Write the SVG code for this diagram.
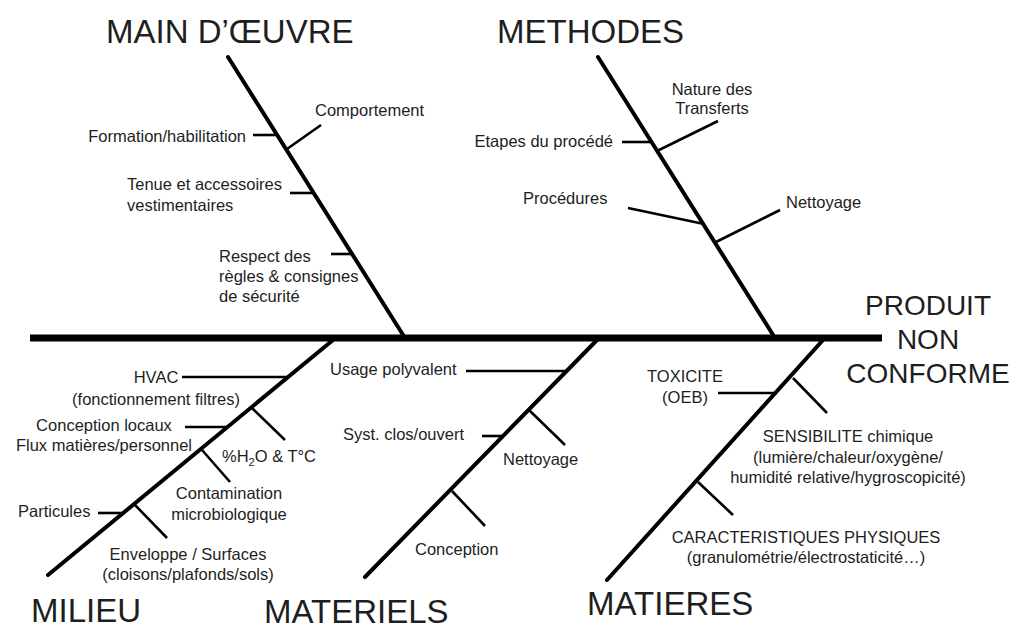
<svg xmlns="http://www.w3.org/2000/svg" width="1016" height="626" viewBox="0 0 1016 626">
  <style>
    text { font-family: "Liberation Sans", Arial, Helvetica, sans-serif; fill: #1e1e1e; }
    .title { font-size: 33px; }
    .effect { font-size: 28px; text-anchor: middle; }
    .cause { font-size: 16.5px; }
    .mid { text-anchor: middle; }
    .end { text-anchor: end; }
    .spine { stroke: #000; stroke-width: 7; fill: none; }
    .bone { stroke: #000; stroke-width: 4; fill: none; stroke-linecap: round; }
    .twig { stroke: #000; stroke-width: 2.6; fill: none; }
  </style>
  <rect width="1016" height="626" fill="#fff"/>

  <!-- connectors: spine, category bones and cause twigs -->
  <g id="connectors">
    <line class="spine" x1="30" y1="338" x2="882" y2="338"/>

    <!-- Main d'oeuvre -->
    <line class="bone" x1="228" y1="57" x2="405" y2="338"/>
    <line class="twig" x1="253" y1="135" x2="277" y2="135"/>
    <line class="twig" x1="287" y1="149" x2="321" y2="125"/>
    <line class="twig" x1="290" y1="193" x2="313" y2="193"/>
    <line class="twig" x1="331" y1="254" x2="352" y2="254"/>

    <!-- Methodes -->
    <line class="bone" x1="598" y1="57" x2="775" y2="338"/>
    <line class="twig" x1="622" y1="142" x2="651" y2="142"/>
    <line class="twig" x1="657" y1="151" x2="718" y2="121"/>
    <line class="twig" x1="628" y1="208" x2="704" y2="224"/>
    <line class="twig" x1="716" y1="242" x2="780" y2="210"/>

    <!-- Milieu -->
    <line class="bone" x1="48" y1="575" x2="333" y2="340"/>
    <line class="twig" x1="182" y1="377" x2="288" y2="377"/>
    <line class="twig" x1="252" y1="408" x2="285" y2="440"/>
    <line class="twig" x1="185" y1="427" x2="227" y2="427"/>
    <line class="twig" x1="202" y1="450" x2="230" y2="482"/>
    <line class="twig" x1="98" y1="513" x2="122" y2="513"/>
    <line class="twig" x1="135" y1="505" x2="167" y2="538"/>

    <!-- Materiels -->
    <line class="bone" x1="365" y1="577" x2="597" y2="340"/>
    <line class="twig" x1="466" y1="371" x2="566" y2="371"/>
    <line class="twig" x1="530" y1="411" x2="565" y2="445"/>
    <line class="twig" x1="482" y1="436" x2="503" y2="436"/>
    <line class="twig" x1="452" y1="491" x2="485" y2="526"/>

    <!-- Matieres -->
    <line class="bone" x1="607" y1="580" x2="823" y2="340"/>
    <line class="twig" x1="718" y1="393" x2="776" y2="393"/>
    <line class="twig" x1="793" y1="378" x2="827" y2="413"/>
    <line class="twig" x1="698" y1="482" x2="733" y2="515"/>
  </g>

  <g id="main-oeuvre">
    <text class="title" x="106" y="43">MAIN D’ŒUVRE</text>
    <text class="cause end" x="246" y="142">Formation/habilitation</text>
    <text class="cause" x="315" y="116">Comportement</text>
    <text class="cause" x="127" y="190">Tenue et accessoires</text>
    <text class="cause" x="127" y="211">vestimentaires</text>
    <text class="cause" x="219" y="262">Respect des</text>
    <text class="cause" x="219" y="282">règles &amp; consignes</text>
    <text class="cause" x="219" y="302">de sécurité</text>
  </g>

  <g id="methodes">
    <text class="title" x="497" y="43">METHODES</text>
    <text class="cause mid" x="712" y="95">Nature des</text>
    <text class="cause mid" x="712" y="114">Transferts</text>
    <text class="cause end" x="613" y="147">Etapes du procédé</text>
    <text class="cause" x="523" y="204">Procédures</text>
    <text class="cause" x="786" y="208">Nettoyage</text>
  </g>

  <g id="produit-non-conforme">
    <text class="effect" x="928" y="315">PRODUIT</text>
    <text class="effect" x="928" y="349">NON</text>
    <text class="effect" x="928" y="383">CONFORME</text>
  </g>

  <g id="milieu">
    <text class="title" x="31" y="622">MILIEU</text>
    <text class="cause mid" x="156" y="383">HVAC</text>
    <text class="cause mid" x="156" y="405">(fonctionnement filtres)</text>
    <text class="cause mid" x="104" y="431">Conception locaux</text>
    <text class="cause mid" x="104" y="451">Flux matières/personnel</text>
    <text class="cause" x="222" y="462">%H<tspan font-size="11" dy="4">2</tspan><tspan dy="-4">O &amp; T°C</tspan></text>
    <text class="cause mid" x="229" y="499">Contamination</text>
    <text class="cause mid" x="229" y="520">microbiologique</text>
    <text class="cause" x="18" y="517">Particules</text>
    <text class="cause mid" x="188" y="560">Enveloppe / Surfaces</text>
    <text class="cause mid" x="188" y="580">(cloisons/plafonds/sols)</text>
  </g>

  <g id="materiels">
    <text class="title" x="264" y="623">MATERIELS</text>
    <text class="cause" x="330" y="375">Usage polyvalent</text>
    <text class="cause" x="343" y="440">Syst. clos/ouvert</text>
    <text class="cause" x="503" y="465">Nettoyage</text>
    <text class="cause" x="415" y="555">Conception</text>
  </g>

  <g id="matieres">
    <text class="title" x="587" y="615">MATIERES</text>
    <text class="cause mid" x="685" y="382">TOXICITE</text>
    <text class="cause mid" x="685" y="403">(OEB)</text>
    <text class="cause mid" x="848" y="442">SENSIBILITE chimique</text>
    <text class="cause mid" x="848" y="463">(lumière/chaleur/oxygène/</text>
    <text class="cause mid" x="848" y="483">humidité relative/hygroscopicité)</text>
    <text class="cause mid" x="806" y="543">CARACTERISTIQUES PHYSIQUES</text>
    <text class="cause mid" x="806" y="563">(granulométrie/électrostaticité…)</text>
  </g>
</svg>
